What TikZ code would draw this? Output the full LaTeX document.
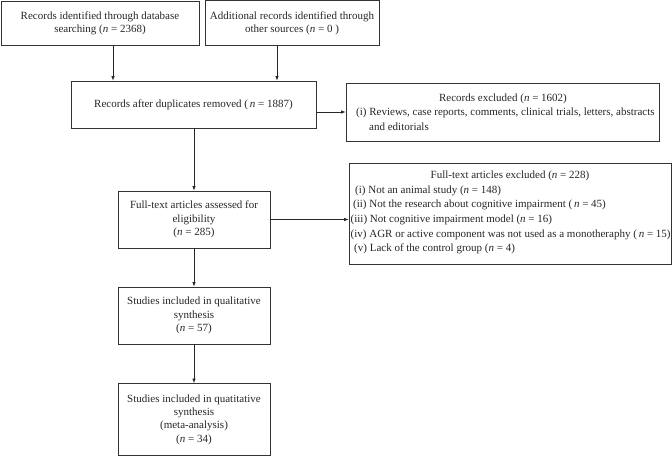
\documentclass[tikz,border=0pt]{standalone}
\usepackage{fontspec}
\setmainfont{Liberation Serif}
\usetikzlibrary{arrows.meta,calc}
\begin{document}
\begin{tikzpicture}[x=1pt,y=-1pt,
  box/.style={draw=black!80,line width=0.8pt,inner sep=0pt,align=center,
    font=\fontsize{11}{13.3}\selectfont,text=black!85},
  txt/.style={inner sep=0pt,font=\fontsize{11}{13.3}\selectfont,text=black!85},
  arr/.style={draw=black!85,line width=0.7pt,-{Latex[length=4.5pt,width=3.5pt]}}]
\useasboundingbox (0,0) rectangle (672,457);
% boxes
\node[box,minimum width=198pt,minimum height=44pt] (B1) at (100,23.5)
  {Records identified through database\\searching (\textit{n} = 2368)};
\node[box,minimum width=174pt,minimum height=44.5pt] (B2) at (292,23)
  {Additional records identified through\\other sources (\textit{n} = 0 )};
\node[box,minimum width=245pt,minimum height=47pt] (B3) at (193.5,104.5)
  {\raisebox{-6pt}{Records after duplicates removed (\,\textit{n} = 1887)}};
\node[box,minimum width=313pt,minimum height=58pt] (E1) at (502.5,112) {};
\node[txt] (E1t) at (503,99) {Records excluded (\textit{n} = 1602)};
\node[txt,anchor=west] (E1a) at (356,113) {(i) Reviews, case reports, comments, clinical trials, letters, abstracts};
\node[txt,anchor=west] (E1b) at (369,126.5) {and editorials};
\node[box,minimum width=152pt,minimum height=57pt] (F) at (194,219.5)
  {Full-text articles assessed for\\eligibility\\(\textit{n} = 285)};
\node[box,minimum width=322pt,minimum height=101pt] (E2) at (510,213.5) {};
\node[txt] (E2t) at (510,175.5) {Full-text articles excluded (\textit{n} = 228)};
\node[txt,anchor=west] (E2a) at (355,190.5) {(i) Not an animal study (\textit{n} = 148)};
\node[txt,anchor=west] (E2b) at (353,205) {(ii) Not the research about cognitive impairment (\,\textit{n} = 45)};
\node[txt,anchor=west] (E2c) at (350.5,220) {(iii) Not cognitive impairment model (\textit{n} = 16)};
\node[txt,anchor=west] (E2d) at (350.5,234.5) {(iv) AGR or active component was not used as a monotheraphy (\,\textit{n} = 15)};
\node[txt,anchor=west] (E2e) at (354,249) {(v) Lack of the control group (\textit{n} = 4)};
\node[box,minimum width=152pt,minimum height=57pt] (S) at (194,315.5)
  {Studies included in qualitative\\synthesis\\(\textit{n} = 57)};
\node[box,minimum width=152pt,minimum height=72pt] (M) at (194,419.5)
  {Studies included in quatitative\\synthesis\\(meta-analysis)\\(\textit{n} = 34)};
% connectors
\draw[arr] ([xshift=13pt]B1.south) -- ([xshift=13pt]B1.south |- B3.north);
\draw[arr] ([xshift=-15pt]B2.south) -- ([xshift=-15pt]B2.south |- B3.north);
\draw[arr] (B3.east |- E1.west) -- (E1.west);
\draw[arr] (B3.south -| F.north) -- (F.north);
\draw[arr] (F.east) -- (F.east -| E2.west);
\draw[arr] (F.south) -- (S.north);
\draw[arr] (S.south) -- (M.north);
\end{tikzpicture}
\end{document}
